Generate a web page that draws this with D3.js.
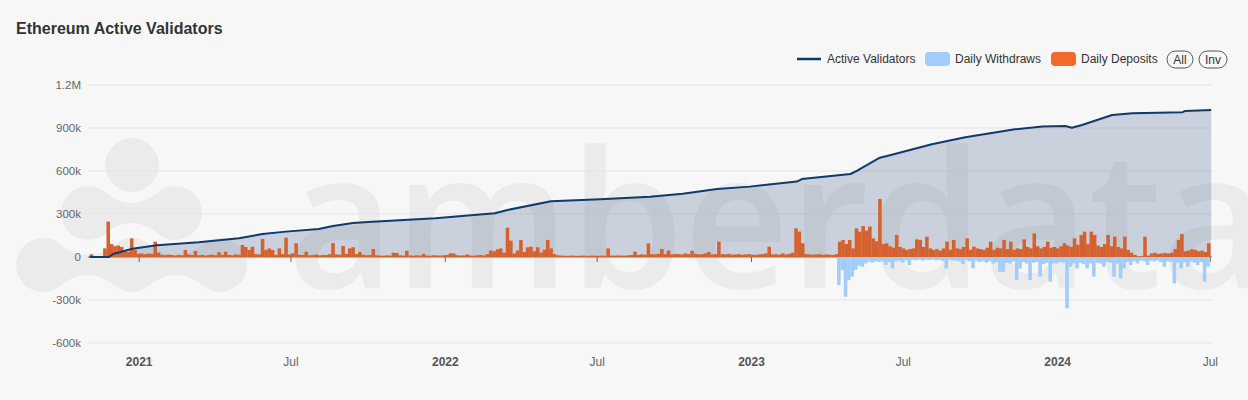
<!DOCTYPE html>
<html>
<head>
<meta charset="utf-8">
<script src="https://cdnjs.cloudflare.com/ajax/libs/d3/7.8.5/d3.min.js"></script>
<style>
    body { margin: 0; background: #f7f7f8; }
    svg { display: block; font-family: "Liberation Sans", Arial, sans-serif; }
    .grid line { stroke: #e4e4ec; stroke-width: 1; }
    .ylab { font-size: 11.5px; fill: #666; }
    .xlab { font-size: 12px; fill: #666; }
    .xlab.year { font-weight: bold; fill: #555; }
    .legend text { font-size: 12px; fill: #333; }
</style>
</head>
<body>
<svg id="chart" width="1248" height="400"></svg>
<script>
    // daily deposits / withdraws, binned every 4 days (thousands)
    let binStart = "2020-11-03";
    let binDays = 4;
    let depositsK = [
        19, 3, 3, 4, 60, 247, 90, 75, 80, 70,
        40, 35, 130, 50, 22, 25, 20, 24, 22, 107,
        30, 15, 12, 16, 14, 10, 15, 12, 49, 18,
        14, 42, 12, 15, 10, 14, 16, 12, 33, 15,
        37, 14, 12, 18, 15, 84, 70, 49, 72, 20,
        18, 126, 49, 60, 49, 15, 60, 20, 135, 18,
        25, 96, 15, 14, 37, 12, 14, 18, 12, 15,
        14, 20, 96, 18, 16, 77, 22, 60, 68, 20,
        35, 15, 12, 14, 55, 12, 10, 9, 12, 10,
        30, 28, 12, 10, 44, 11, 9, 12, 10, 22,
        10, 9, 12, 11, 10, 12, 14, 26, 24, 12,
        10, 11, 18, 10, 9, 12, 14, 11, 20, 45,
        40, 54, 60, 30, 205, 114, 25, 45, 119, 35,
        68, 72, 40, 68, 30, 50, 119, 60, 20, 12,
        10, 9, 8, 10, 9, 8, 10, 9, 8, 10,
        9, 8, 10, 9, 60, 10, 9, 11, 10, 9,
        12, 14, 37, 15, 18, 16, 95, 20, 18, 22,
        56, 20, 45, 18, 22, 20, 18, 25, 20, 44,
        22, 18, 20, 25, 35, 18, 20, 107, 20, 18,
        22, 16, 18, 20, 15, 18, 20, 16, 14, 18,
        20, 25, 72, 18, 20, 16, 25, 18, 22, 30,
        200, 177, 96, 20, 18, 16, 18, 20, 15, 18,
        16, 14, 20, 107, 119, 91, 119, 60, 200, 177,
        216, 184, 212, 130, 110, 405, 90, 96, 75, 65,
        154, 70, 60, 50, 55, 60, 123, 119, 70, 142,
        60, 50, 55, 45, 60, 107, 50, 119, 60, 55,
        70, 130, 50, 72, 60, 55, 50, 65, 107, 50,
        65, 60, 119, 55, 107, 50, 60, 55, 123, 70,
        60, 165, 75, 60, 70, 107, 65, 70, 60, 75,
        96, 80, 70, 130, 85, 154, 177, 90, 177, 154,
        80, 70, 90, 154, 75, 142, 70, 60, 142, 50,
        30, 15, 5, 6, 142, 10, 25, 30, 22, 25,
        28, 25, 30, 55, 119, 161, 40, 45, 55, 50,
        40, 45, 35, 96
    ];
    let withdrawStart = "2023-04-13";
    let withdrawsK = [
        -196, -91, -277, -161, -137, -90, -60,
        -68, -45, -33, -40, -30, -35, -30, -56, -35, -79,
        -30, -25, -40, -25, -56, -20, -22, -18, -25, -20,
        -22, -18, -25, -20, -28, -79, -20, -25, -25, -30,
        -50, -22, -30, -79, -25, -35, -28, -40, -30, -45,
        -35, -103, -103, -40, -45, -30, -161, -80, -35, -45,
        -161, -40, -35, -137, -50, -40, -172, -45, -44, -35,
        -40, -358, -68, -45, -80, -40, -50, -79, -45, -137,
        -40, -45, -68, -35, -40, -137, -45, -149, -79, -35,
        -56, -30, -44, -25, -30, -56, -28, -30, -25, -35,
        -68, -30, -35, -184, -40, -79, -35, -68, -30, -40,
        -56, -35, -172, -68
    ];

    // active validators (thousands)
    let validatorDates = [
        "2020-11-03", "2020-11-26", "2020-12-01", "2020-12-24", "2021-01-22", "2021-03-13",
        "2021-04-30", "2021-05-28", "2021-06-25", "2021-08-03", "2021-08-20", "2021-09-13",
        "2021-10-01", "2021-12-20", "2022-03-01", "2022-03-16", "2022-05-07", "2022-07-05",
        "2022-09-02", "2022-10-11", "2022-11-21", "2022-12-30", "2023-02-24", "2023-03-02",
        "2023-04-29", "2023-05-07", "2023-06-03", "2023-06-15", "2023-08-04", "2023-09-13",
        "2023-11-11", "2023-12-14", "2024-01-10", "2024-01-18", "2024-01-30", "2024-03-06",
        "2024-03-30", "2024-05-29", "2024-06-01", "2024-07-02"
    ];
    let validatorsK = [
        0, 0, 21, 58, 82, 103,
        131, 160, 177, 196, 217, 238,
        245, 270, 305, 328, 389, 403,
        421, 442, 475, 491, 526, 544,
        579, 603, 693, 710, 786, 835,
        891, 910, 914, 902, 921, 991,
        1003, 1010, 1019, 1026
    ];

    let yTicks = [-600, -300, 0, 300, 600, 900, 1200];
    let xTickDates = ["2021-01-01", "2021-07-01", "2022-01-01", "2022-07-01", "2023-01-01", "2023-07-01", "2024-01-01", "2024-07-01"];
    let xTickLabels = ["2021", "Jul", "2022", "Jul", "2023", "Jul", "2024", "Jul"];

    let parse = d3.utcParse("%Y-%m-%d");
    let svg = d3.select("#chart");

    let x = d3.scaleUtc()
        .domain([parse("2020-11-01"), parse("2024-07-03")])
        .range([88, 1212]);
    let y = d3.scaleLinear()
        .domain([-600, 1200])
        .range([343, 85]);

    // title
    svg.append("text")
        .attr("x", 16).attr("y", 34)
        .attr("font-size", 16).attr("font-weight", "bold")
        .attr("fill", "#333")
        .text("Ethereum Active Validators");

    // watermark
    let wm = svg.append("g").attr("fill", "#ebebec");
    let r = 27;
    let logo = [[132, 165], [88, 213], [175, 213], [43, 265], [132, 265], [220, 265]];
    logo.forEach(function(c) {
        wm.append("circle").attr("cx", c[0]).attr("cy", c[1]).attr("r", r);
    });
    let k = r * Math.SQRT1_2;
    [[1, 2], [3, 4], [4, 5]].forEach(function(p) {
        let a = logo[p[0]], b = logo[p[1]], cy = a[1], mx = (a[0] + b[0]) / 2;
        wm.append("path").attr("d",
            "M" + (a[0] + k) + "," + (cy - k) +
            " Q" + mx + "," + (cy - 1) + " " + (b[0] - k) + "," + (cy - k) +
            " L" + (b[0] - k) + "," + (cy + k) +
            " Q" + mx + "," + (cy + 1) + " " + (a[0] + k) + "," + (cy + k) + "Z");
    });
    wm.append("text")
        .attr("x", 288).attr("y", 288)
        .attr("font-family", "'Open Sans', sans-serif")
        .attr("font-weight", 600)
        .attr("font-size", 190)
        .attr("textLength", 980)
        .attr("lengthAdjust", "spacingAndGlyphs")
        .text("amberdata");

    // grid
    svg.append("g").attr("class", "grid")
        .selectAll("line").data(yTicks.filter(function(t) { return t !== 0; }))
        .enter().append("line")
            .attr("x1", 88).attr("x2", 1212)
            .attr("y1", function(d) { return y(d); })
            .attr("y2", function(d) { return y(d); });

    svg.append("g").selectAll("text").data(yTicks)
        .enter().append("text")
            .attr("class", "ylab")
            .attr("x", 81)
            .attr("y", function(d) { return y(d) + 4; })
            .attr("text-anchor", "end")
            .text(function(d) {
                if (d === 0) return "0";
                return Math.abs(d) >= 1000 ? (d / 1000) + "M" : d + "k";
            });

    // area + line
    let vals = validatorDates.map(function(d, i) { return { date: parse(d), v: validatorsK[i] }; });
    svg.append("path")
        .datum(vals)
        .attr("fill", "rgba(28, 62, 108, 0.2)")
        .attr("d", d3.area()
            .x(function(d) { return x(d.date); })
            .y0(y(0))
            .y1(function(d) { return y(d.v); }));

    // zero axis
    svg.append("line")
        .attr("x1", 88).attr("x2", 1212)
        .attr("y1", y(0)).attr("y2", y(0))
        .attr("stroke", "#777").attr("stroke-width", 1);

    svg.append("g").selectAll("line").data(xTickDates)
        .enter().append("line")
            .attr("x1", function(d) { return x(parse(d)); })
            .attr("x2", function(d) { return x(parse(d)); })
            .attr("y1", y(0)).attr("y2", y(0) + 5)
            .attr("stroke", "#666");

    // bars, one per bin
    let s0 = parse(binStart), w0 = parse(withdrawStart);
    function binDate(start, i) { return d3.utcDay.offset(start, i * binDays); }
    function binW(start, i) { return x(binDate(start, i + 1)) - x(binDate(start, i)) + 0.2; }

    svg.append("g").selectAll("rect").data(withdrawsK)
        .enter().append("rect")
            .attr("x", function(d, i) { return x(binDate(w0, i)); })
            .attr("width", function(d, i) { return binW(w0, i); })
            .attr("y", y(0))
            .attr("height", function(d) { return y(d) - y(0); })
            .attr("fill", "#a2cdf6");

    svg.append("g").selectAll("rect").data(depositsK)
        .enter().append("rect")
            .attr("x", function(d, i) { return x(binDate(s0, i)); })
            .attr("width", function(d, i) { return binW(s0, i); })
            .attr("y", function(d) { return y(d); })
            .attr("height", function(d) { return y(0) - y(d); })
            .attr("fill", "#d5612e");

    svg.append("path")
        .datum(vals)
        .attr("fill", "none")
        .attr("stroke", "#0f3a6c")
        .attr("stroke-width", 2)
        .attr("stroke-linejoin", "round")
        .attr("d", d3.line()
            .x(function(d) { return x(d.date); })
            .y(function(d) { return y(d.v); }));

    // x labels
    svg.append("g").selectAll("text").data(xTickDates)
        .enter().append("text")
            .attr("class", function(d, i) { return xTickLabels[i] === "Jul" ? "xlab" : "xlab year"; })
            .attr("x", function(d) { return x(parse(d)); })
            .attr("y", 366)
            .attr("text-anchor", "middle")
            .text(function(d, i) { return xTickLabels[i]; });

    // legend
    let lg = svg.append("g").attr("class", "legend");
    lg.append("line").attr("x1", 797).attr("x2", 821).attr("y1", 59).attr("y2", 59)
        .attr("stroke", "#0f3a6c").attr("stroke-width", 2.5);
    lg.append("text").attr("x", 827).attr("y", 63).text("Active Validators");
    lg.append("rect").attr("x", 925).attr("y", 52).attr("width", 25).attr("height", 14).attr("rx", 4)
        .attr("fill", "#a2cdf8");
    lg.append("text").attr("x", 955).attr("y", 63).text("Daily Withdraws");
    lg.append("rect").attr("x", 1051).attr("y", 52).attr("width", 25).attr("height", 14).attr("rx", 4)
        .attr("fill", "#f26a2a");
    lg.append("text").attr("x", 1081).attr("y", 63).text("Daily Deposits");
    [["All", 1180, 13], ["Inv", 1213, 14]].forEach(function(b) {
        lg.append("rect").attr("x", b[1] - b[2]).attr("y", 51).attr("width", 2 * b[2]).attr("height", 17)
            .attr("rx", 8.5).attr("fill", "none").attr("stroke", "#555");
        lg.append("text").attr("x", b[1]).attr("y", 64).attr("text-anchor", "middle")
            .attr("fill", "#444").text(b[0]);
    });
</script>
</body>
</html>
